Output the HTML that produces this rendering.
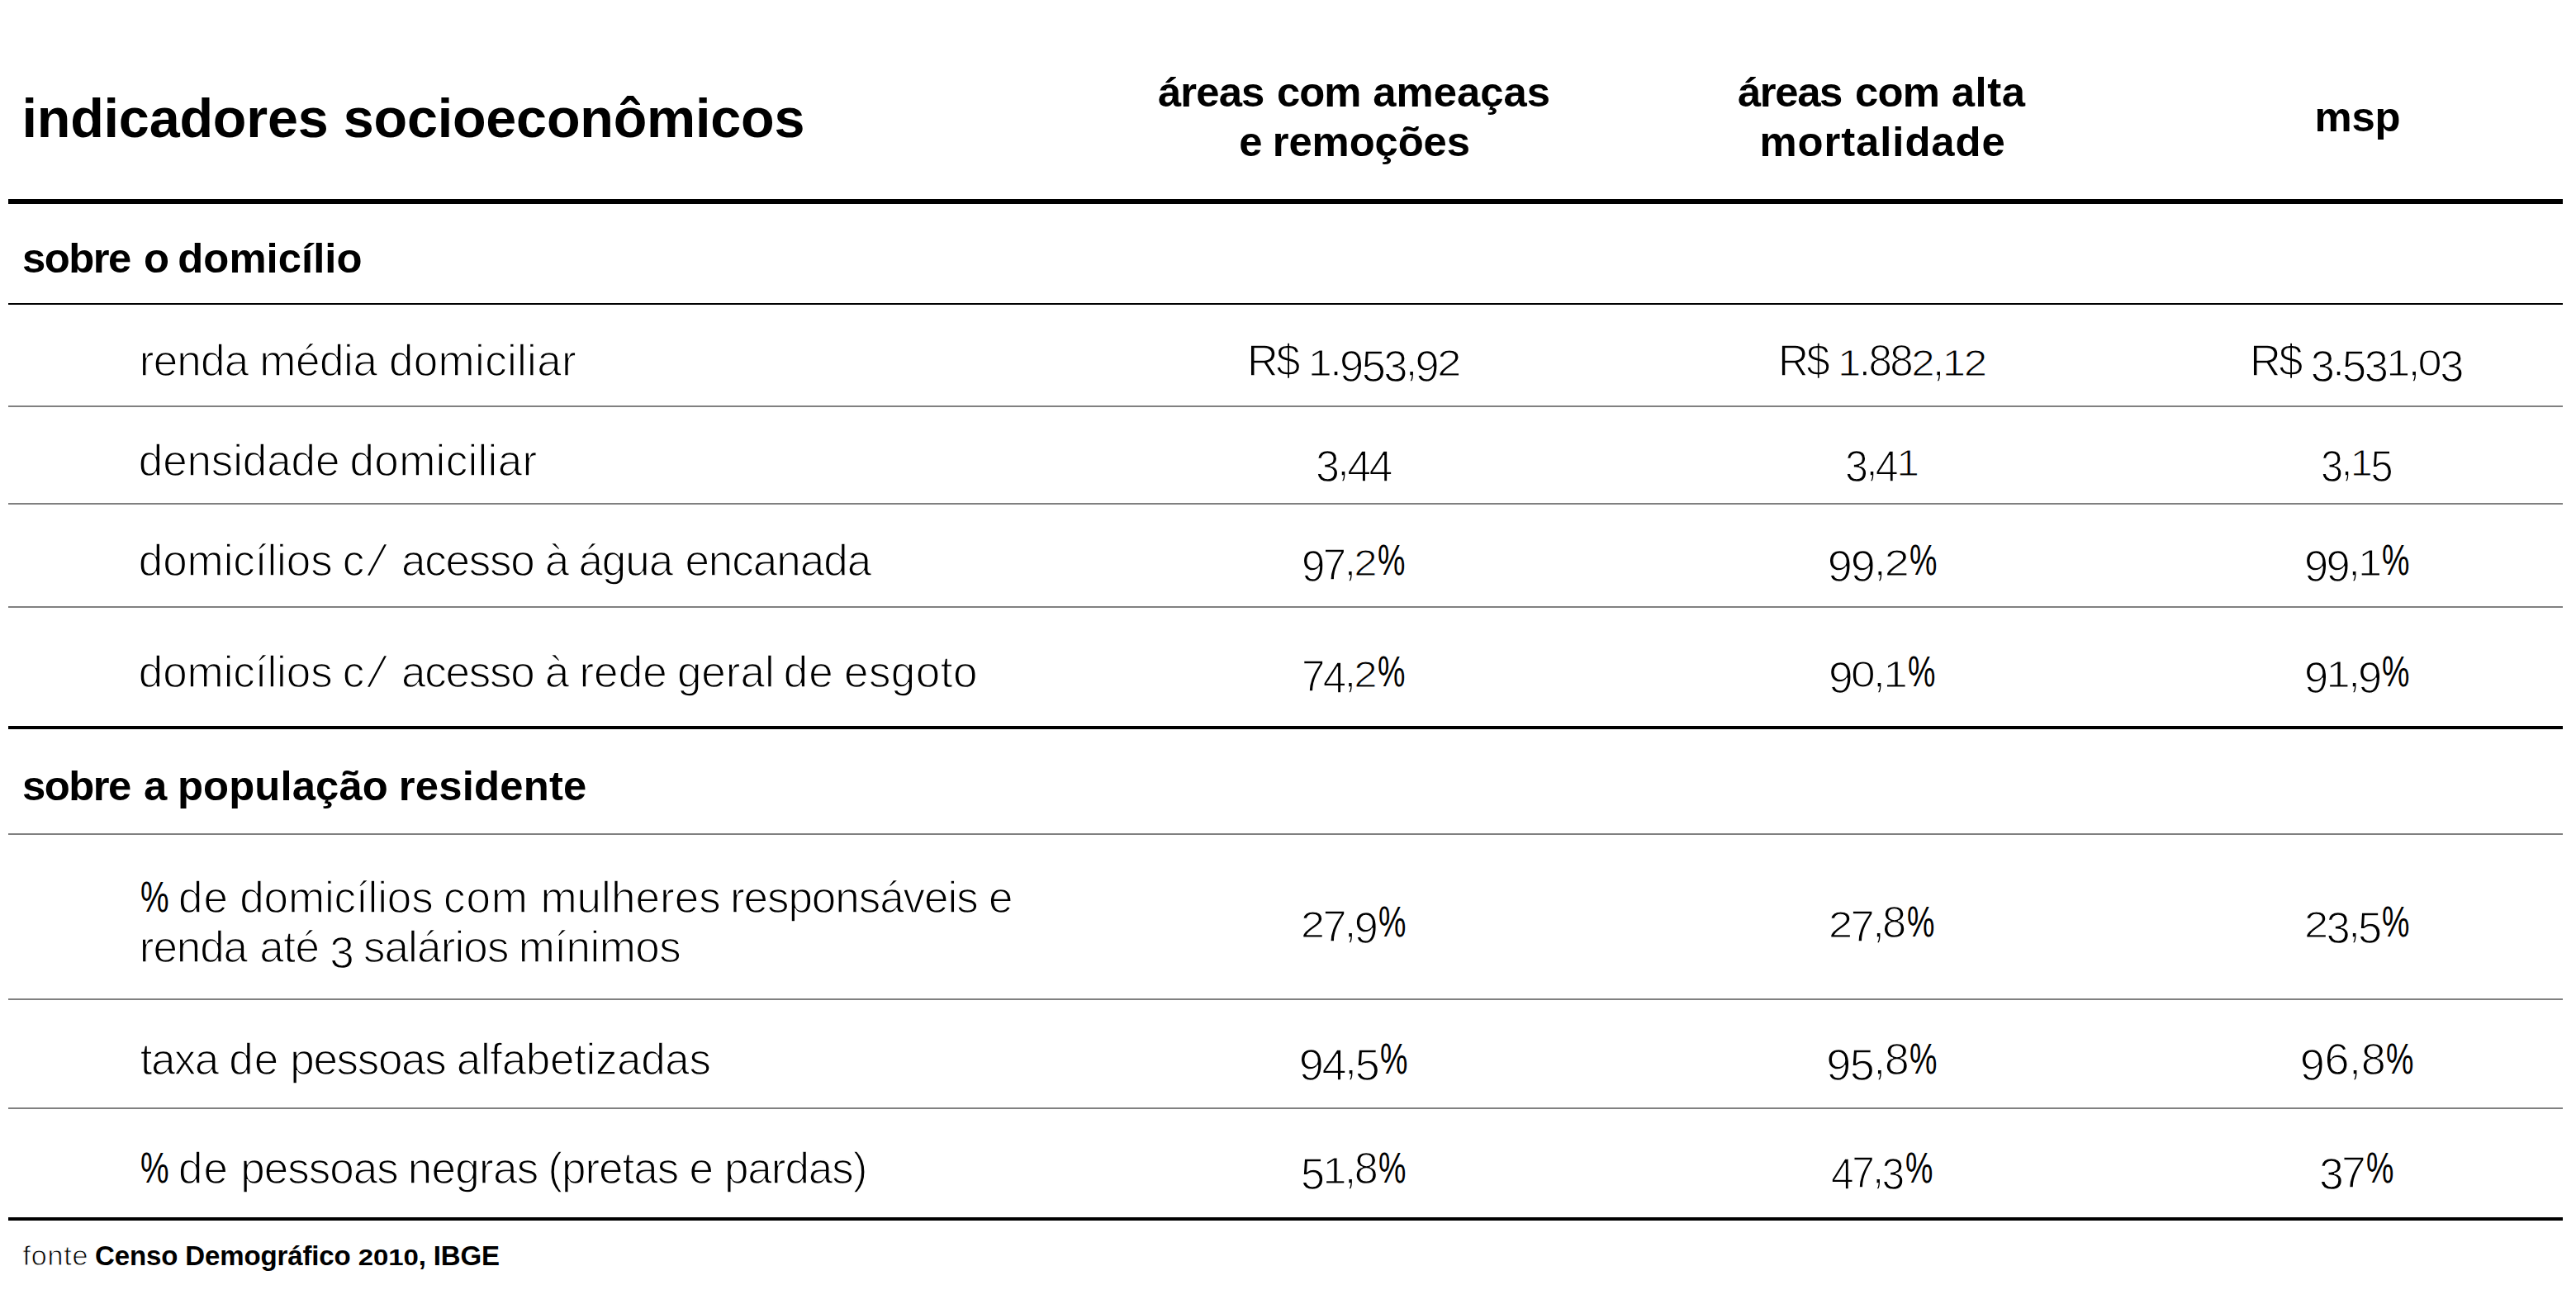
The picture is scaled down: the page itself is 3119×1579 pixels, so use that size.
<!DOCTYPE html>
<html lang="pt-BR">
<head>
<meta charset="utf-8">
<title>indicadores socioeconômicos</title>
<style>
html,body{margin:0;padding:0;background:#fff}
body{width:3119px;height:1579px;position:relative;overflow:hidden;font-family:"Liberation Sans", sans-serif;color:#000}
.r{position:absolute;left:10px;width:3093px}
.t{position:absolute;white-space:nowrap;line-height:1;margin:0;padding:0;transform-origin:0 0;font-kerning:normal}
.b{font-weight:bold}
.n{font-weight:normal}
.l{font-weight:normal;-webkit-text-stroke:0.025em #fff}
.o{display:inline-block;transform:scaleY(0.83);transform-origin:0 84.6%}
.d{position:relative;top:0.1296em}
.e{position:relative;top:0.0926em}
.s{display:inline-block;transform:translateX(.04em) skewX(-15deg);transform-origin:0 84.6%}
</style>
</head>
<body>
<div class="r" style="top:241px;height:6px;background:#000"></div>
<div class="r" style="top:367px;height:2px;background:#000"></div>
<div class="r" style="top:491px;height:2px;background:#808080"></div>
<div class="r" style="top:609px;height:2px;background:#808080"></div>
<div class="r" style="top:734px;height:2px;background:#808080"></div>
<div class="r" style="top:879px;height:4px;background:#000"></div>
<div class="r" style="top:1009px;height:2px;background:#808080"></div>
<div class="r" style="top:1209px;height:2px;background:#808080"></div>
<div class="r" style="top:1341px;height:2px;background:#808080"></div>
<div class="r" style="top:1474px;height:4px;background:#000"></div>
<div class="t b" style="left:26.50px;top:110.00px;font-size:66.5px;letter-spacing:-0.210px;">indicadores socioeconômicos</div>
<div class="t b" style="left:27.00px;top:288.00px;font-size:50.8px;"><span style="letter-spacing:-1.519px;">sobre </span><span style="letter-spacing:0.000px;margin-left:3.67px;">o </span><span style="letter-spacing:0.040px;margin-left:-3.89px;">domicílio</span></div>
<div class="t b" style="left:27.00px;top:927.00px;font-size:50.8px;"><span style="letter-spacing:-1.519px;">sobre </span><span style="letter-spacing:0.000px;margin-left:3.67px;">a </span><span style="letter-spacing:0.096px;margin-left:-1.36px;">população </span><span style="letter-spacing:0.205px;margin-left:-1.33px;">residente</span></div>
<div class="t b" style="left:1402.00px;top:87.00px;font-size:50.8px;"><span style="letter-spacing:-0.880px;">áreas </span><span style="letter-spacing:-1.015px;margin-left:2.40px;">com </span><span style="letter-spacing:0.013px;margin-left:1.75px;">ameaças</span></div>
<div class="t b" style="left:1500.25px;top:147.00px;font-size:50.8px;"><span style="letter-spacing:0.000px;">e </span><span style="letter-spacing:-0.106px;margin-left:-1.86px;">remoções</span></div>
<div class="t b" style="left:2104.00px;top:87.00px;font-size:50.8px;"><span style="letter-spacing:-1.380px;">áreas </span><span style="letter-spacing:-0.765px;margin-left:3.40px;">com </span><span style="letter-spacing:0.600px;margin-left:1.25px;">alta</span></div>
<div class="t b" style="left:2130.50px;top:147.00px;font-size:50.8px;letter-spacing:0.934px;">mortalidade</div>
<div class="t b" style="left:2802.50px;top:117.00px;font-size:50.8px;letter-spacing:-0.209px;">msp</div>
<div class="t l" style="left:168.84px;top:410.00px;font-size:53px;"><span style="letter-spacing:-0.813px;">renda </span><span style="letter-spacing:-0.450px;margin-left:0.10px;">média </span><span style="letter-spacing:0.294px;margin-left:0.37px;">domiciliar</span></div>
<div class="t l" style="left:167.84px;top:531.00px;font-size:53px;"><span style="letter-spacing:-0.132px;">densidade </span><span style="letter-spacing:0.294px;margin-left:-2.26px;">domiciliar</span></div>
<div class="t l" style="left:167.84px;top:652.00px;font-size:53px;"><span style="letter-spacing:-0.089px;">domicílios </span><span style="letter-spacing:1.000px;margin-left:-2.37px;">c<span class="s">/</span> </span><span style="letter-spacing:-1.275px;margin-left:12.30px;">acesso </span><span style="letter-spacing:0.000px;margin-left:0.02px;">à </span><span style="letter-spacing:-1.034px;margin-left:-3.70px;">água </span><span style="letter-spacing:-1.004px;margin-left:1.54px;">encanada</span></div>
<div class="t l" style="left:167.84px;top:787.00px;font-size:53px;"><span style="letter-spacing:-0.089px;">domicílios </span><span style="letter-spacing:1.000px;margin-left:-2.37px;">c<span class="s">/</span> </span><span style="letter-spacing:-1.275px;margin-left:12.30px;">acesso </span><span style="letter-spacing:0.000px;margin-left:0.02px;">à </span><span style="letter-spacing:0.074px;margin-left:-2.70px;">rede </span><span style="letter-spacing:-0.001px;margin-left:-2.68px;">geral </span><span style="letter-spacing:1.000px;margin-left:-3.82px;">de </span><span style="letter-spacing:0.484px;margin-left:-3.43px;">esgoto</span></div>
<div class="t n" style="left:169.74px;top:1061.00px;font-size:51.5px;transform:scaleX(0.7558);">%</div>
<div class="t l" style="left:216.09px;top:1060.00px;font-size:53px;"><span style="letter-spacing:1.000px;">de </span><span style="letter-spacing:-0.134px;margin-left:-2.53px;">domicílios </span><span style="letter-spacing:1.000px;margin-left:-2.28px;">com </span><span style="letter-spacing:0.050px;margin-left:-1.35px;">mulheres </span><span style="letter-spacing:-1.041px;margin-left:-3.65px;">responsáveis </span><span style="letter-spacing:-0.350px;margin-left:-0.47px;">e</span></div>
<div class="t l" style="left:168.84px;top:1120.00px;font-size:53px;"><span style="letter-spacing:-1.088px;">renda </span><span style="letter-spacing:-0.438px;margin-left:1.65px;">até </span><span style="letter-spacing:0.000px;margin-left:-1.65px;"><span class="d">3</span> </span><span style="letter-spacing:-0.865px;margin-left:-3.60px;">salários </span><span style="letter-spacing:-0.529px;margin-left:-1.82px;">mínimos</span></div>
<div class="t l" style="left:169.84px;top:1256.00px;font-size:53px;"><span style="letter-spacing:-1.600px;">taxa </span><span style="letter-spacing:1.000px;margin-left:0.60px;">de </span><span style="letter-spacing:-1.347px;margin-left:-2.68px;">pessoas </span><span style="letter-spacing:-0.355px;margin-left:0.14px;">alfabetizadas</span></div>
<div class="t n" style="left:169.74px;top:1389.00px;font-size:51.5px;transform:scaleX(0.7558);">%</div>
<div class="t l" style="left:216.09px;top:1388.00px;font-size:53px;"><span style="letter-spacing:1.000px;">de </span><span style="letter-spacing:-1.013px;margin-left:-1.43px;">pessoas </span><span style="letter-spacing:-0.746px;margin-left:-1.52px;">negras </span><span style="letter-spacing:-1.021px;margin-left:-2.06px;">(pretas </span><span style="letter-spacing:0.000px;margin-left:-0.51px;">e </span><span style="letter-spacing:-1.038px;margin-left:-1.70px;">pardas)</span></div>
<div class="t l" style="left:27.57px;top:1503.00px;font-size:34px;letter-spacing:0.785px;">fonte</div>
<div class="t b" style="left:115.00px;top:1504.00px;font-size:33px;letter-spacing:-0.123px;">Censo Demográfico <span class="o">2</span><span class="o">0</span><span class="o">1</span><span class="o">0</span>, IBGE</div>
<div class="t l" style="left:1509.95px;top:409.00px;font-size:54px;letter-spacing:-2.700px;transform:scaleX(0.9699);">R$ <span class="o">1</span>.<span class="d">9</span><span class="d">5</span><span class="d">3</span>,<span class="d">9</span><span class="o">2</span></div>
<div class="t l" style="left:2152.54px;top:409.00px;font-size:54px;letter-spacing:-2.700px;transform:scaleX(0.9470);">R$ <span class="o">1</span>.88<span class="o">2</span>,<span class="o">1</span><span class="o">2</span></div>
<div class="t l" style="left:2724.45px;top:409.00px;font-size:54px;letter-spacing:-2.700px;transform:scaleX(0.9699);">R$ <span class="d">3</span>.<span class="d">5</span><span class="d">3</span><span class="o">1</span>,<span class="o">0</span><span class="d">3</span></div>
<div class="t l" style="left:1592.90px;top:530.00px;font-size:54px;letter-spacing:-2.700px;transform:scaleX(0.9615);"><span class="d">3</span>,<span class="d">4</span><span class="d">4</span></div>
<div class="t l" style="left:2234.47px;top:530.00px;font-size:54px;letter-spacing:-2.700px;transform:scaleX(0.9288);"><span class="d">3</span>,<span class="d">4</span><span class="o">1</span></div>
<div class="t l" style="left:2810.02px;top:530.00px;font-size:54px;letter-spacing:-2.700px;transform:scaleX(0.9019);"><span class="d">3</span>,<span class="o">1</span><span class="d">5</span></div>
<div class="t l" style="left:1576.44px;top:651.00px;font-size:54px;letter-spacing:-2.700px;transform:scaleX(0.9450);"><span class="d">9</span><span class="e">7</span>,<span class="o">2</span></div>
<div class="t n" style="left:1668.28px;top:652.00px;font-size:52.5px;transform:scaleX(0.7159);">%</div>
<div class="t l" style="left:2212.82px;top:651.00px;font-size:54px;letter-spacing:-2.072px;"><span class="d">9</span><span class="d">9</span>,<span class="o">2</span></div>
<div class="t n" style="left:2311.78px;top:652.00px;font-size:52.5px;transform:scaleX(0.7159);">%</div>
<div class="t l" style="left:2789.88px;top:651.00px;font-size:54px;letter-spacing:-2.700px;transform:scaleX(0.9718);"><span class="d">9</span><span class="d">9</span>,<span class="o">1</span></div>
<div class="t n" style="left:2884.28px;top:652.00px;font-size:52.5px;transform:scaleX(0.7159);">%</div>
<div class="t l" style="left:1576.44px;top:786.00px;font-size:54px;letter-spacing:-2.700px;transform:scaleX(0.9450);"><span class="e">7</span><span class="d">4</span>,<span class="o">2</span></div>
<div class="t n" style="left:1668.28px;top:787.00px;font-size:52.5px;transform:scaleX(0.7159);">%</div>
<div class="t l" style="left:2213.85px;top:786.00px;font-size:54px;letter-spacing:-2.700px;transform:scaleX(0.9880);"><span class="d">9</span><span class="o">0</span>,<span class="o">1</span></div>
<div class="t n" style="left:2309.78px;top:787.00px;font-size:52.5px;transform:scaleX(0.7159);">%</div>
<div class="t l" style="left:2789.88px;top:786.00px;font-size:54px;letter-spacing:-2.700px;transform:scaleX(0.9718);"><span class="d">9</span><span class="o">1</span>,<span class="d">9</span></div>
<div class="t n" style="left:2884.28px;top:787.00px;font-size:52.5px;transform:scaleX(0.7159);">%</div>
<div class="t l" style="left:1575.39px;top:1089.00px;font-size:54px;letter-spacing:-2.700px;transform:scaleX(0.9665);"><span class="o">2</span><span class="e">7</span>,<span class="d">9</span></div>
<div class="t n" style="left:1669.28px;top:1090.00px;font-size:52.5px;transform:scaleX(0.7159);">%</div>
<div class="t l" style="left:2214.38px;top:1089.00px;font-size:54px;letter-spacing:-2.700px;transform:scaleX(0.9718);"><span class="o">2</span><span class="e">7</span>,8</div>
<div class="t n" style="left:2308.78px;top:1090.00px;font-size:52.5px;transform:scaleX(0.7159);">%</div>
<div class="t l" style="left:2789.88px;top:1089.00px;font-size:54px;letter-spacing:-2.700px;transform:scaleX(0.9718);"><span class="o">2</span><span class="d">3</span>,<span class="d">5</span></div>
<div class="t n" style="left:2884.28px;top:1090.00px;font-size:52.5px;transform:scaleX(0.7159);">%</div>
<div class="t l" style="left:1572.83px;top:1255.00px;font-size:54px;letter-spacing:-2.406px;"><span class="d">9</span><span class="d">4</span>,<span class="d">5</span></div>
<div class="t n" style="left:1670.78px;top:1256.00px;font-size:52.5px;transform:scaleX(0.7159);">%</div>
<div class="t l" style="left:2211.32px;top:1255.00px;font-size:54px;letter-spacing:-1.572px;"><span class="d">9</span><span class="d">5</span>,8</div>
<div class="t n" style="left:2311.78px;top:1256.00px;font-size:52.5px;transform:scaleX(0.7159);">%</div>
<div class="t l" style="left:2784.82px;top:1255.00px;font-size:54px;letter-spacing:-0.406px;"><span class="d">9</span>6,8</div>
<div class="t n" style="left:2888.78px;top:1256.00px;font-size:52.5px;transform:scaleX(0.7159);">%</div>
<div class="t l" style="left:1575.39px;top:1387.00px;font-size:54px;letter-spacing:-2.700px;transform:scaleX(0.9665);"><span class="d">5</span><span class="o">1</span>,8</div>
<div class="t n" style="left:1669.28px;top:1388.00px;font-size:52.5px;transform:scaleX(0.7159);">%</div>
<div class="t l" style="left:2217.41px;top:1387.00px;font-size:54px;letter-spacing:-2.700px;transform:scaleX(0.9189);"><span class="d">4</span><span class="e">7</span>,<span class="d">3</span></div>
<div class="t n" style="left:2306.78px;top:1388.00px;font-size:52.5px;transform:scaleX(0.7159);">%</div>
<div class="t l" style="left:2808.34px;top:1387.00px;font-size:54px;letter-spacing:-2.700px;transform:scaleX(0.9910);"><span class="d">3</span><span class="e">7</span></div>
<div class="t n" style="left:2865.28px;top:1388.00px;font-size:52.5px;transform:scaleX(0.7159);">%</div>
</body>
</html>
